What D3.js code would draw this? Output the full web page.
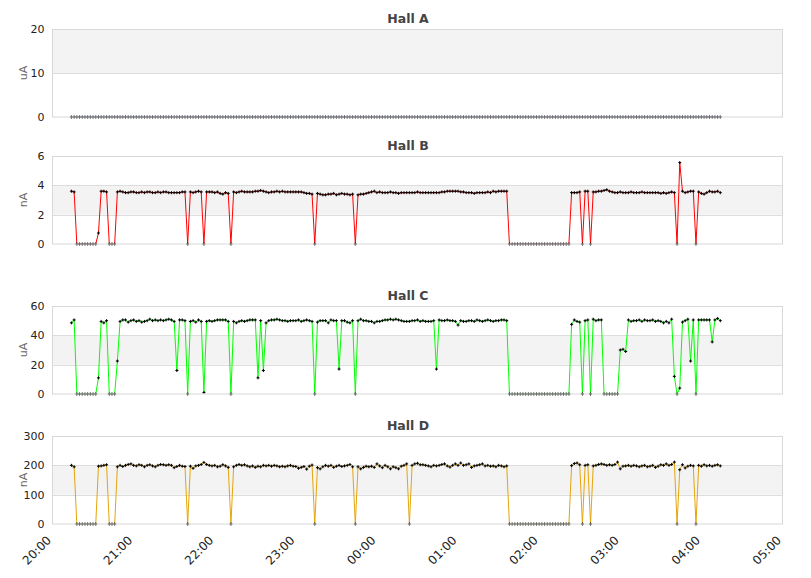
<!DOCTYPE html>
<html>
<head>
<meta charset="utf-8">
<script src="https://cdn.jsdelivr.net/npm/d3@7"></script>
<style>
  body { margin: 0; background: #fff; }
  svg { display: block; font-family: "DejaVu Sans", sans-serif; }
</style>
</head>
<body>
<svg id="chart" width="811" height="578"></svg>
<script>
"use strict";
// samples every 2 minutes, starting 20:14
const sampleStart = Date.UTC(2024, 0, 1, 20, 14);
const sampleStepMin = 2;
const axisStart = Date.UTC(2024, 0, 1, 20, 0);
const axisEnd = Date.UTC(2024, 0, 2, 5, 0);

const hallA = [
  0, 0, 0, 0, 0, 0, 0, 0, 0, 0,
  0, 0, 0, 0, 0, 0, 0, 0, 0, 0,
  0, 0, 0, 0, 0, 0, 0, 0, 0, 0,
  0, 0, 0, 0, 0, 0, 0, 0, 0, 0,
  0, 0, 0, 0, 0, 0, 0, 0, 0, 0,
  0, 0, 0, 0, 0, 0, 0, 0, 0, 0,
  0, 0, 0, 0, 0, 0, 0, 0, 0, 0,
  0, 0, 0, 0, 0, 0, 0, 0, 0, 0,
  0, 0, 0, 0, 0, 0, 0, 0, 0, 0,
  0, 0, 0, 0, 0, 0, 0, 0, 0, 0,
  0, 0, 0, 0, 0, 0, 0, 0, 0, 0,
  0, 0, 0, 0, 0, 0, 0, 0, 0, 0,
  0, 0, 0, 0, 0, 0, 0, 0, 0, 0,
  0, 0, 0, 0, 0, 0, 0, 0, 0, 0,
  0, 0, 0, 0, 0, 0, 0, 0, 0, 0,
  0, 0, 0, 0, 0, 0, 0, 0, 0, 0,
  0, 0, 0, 0, 0, 0, 0, 0, 0, 0,
  0, 0, 0, 0, 0, 0, 0, 0, 0, 0,
  0, 0, 0, 0, 0, 0, 0, 0, 0, 0,
  0, 0, 0, 0, 0, 0, 0, 0, 0, 0,
  0, 0, 0, 0, 0, 0, 0, 0, 0, 0,
  0, 0, 0, 0, 0, 0, 0, 0, 0, 0,
  0, 0, 0, 0, 0, 0, 0, 0, 0, 0,
  0, 0, 0, 0, 0, 0, 0, 0, 0, 0,
  0
];

const hallB = [
  3.6, 3.55, 0, 0, 0, 0, 0, 0, 0, 0,
  0.75, 3.6, 3.6, 3.55, 0, 0, 0, 3.55, 3.6, 3.55,
  3.5, 3.5, 3.55, 3.55, 3.5, 3.5, 3.55, 3.5, 3.55, 3.55,
  3.5, 3.5, 3.55, 3.5, 3.55, 3.55, 3.5, 3.5, 3.5, 3.5,
  3.5, 3.55, 3.55, 0, 3.55, 3.5, 3.55, 3.6, 3.55, 0,
  3.55, 3.55, 3.55, 3.5, 3.55, 3.45, 3.4, 3.5, 3.45, 0,
  3.55, 3.5, 3.55, 3.6, 3.55, 3.55, 3.55, 3.55, 3.6, 3.6,
  3.65, 3.6, 3.55, 3.5, 3.55, 3.55, 3.6, 3.55, 3.6, 3.55,
  3.55, 3.55, 3.55, 3.55, 3.55, 3.55, 3.5, 3.45, 3.45, 3.4,
  0, 3.45, 3.4, 3.35, 3.35, 3.4, 3.4, 3.45, 3.35, 3.4,
  3.45, 3.4, 3.4, 3.35, 3.4, 0, 3.35, 3.4, 3.4, 3.45,
  3.5, 3.55, 3.6, 3.5, 3.55, 3.5, 3.5, 3.5, 3.55, 3.5,
  3.5, 3.45, 3.5, 3.5, 3.5, 3.5, 3.5, 3.5, 3.55, 3.5,
  3.5, 3.5, 3.5, 3.5, 3.5, 3.5, 3.5, 3.55, 3.55, 3.6,
  3.6, 3.6, 3.6, 3.6, 3.55, 3.55, 3.5, 3.5, 3.5, 3.45,
  3.5, 3.5, 3.5, 3.5, 3.55, 3.5, 3.6, 3.55, 3.6, 3.6,
  3.6, 3.6, 0, 0, 0, 0, 0, 0, 0, 0,
  0, 0, 0, 0, 0, 0, 0, 0, 0, 0,
  0, 0, 0, 0, 0, 3.5, 3.5, 3.5, 3.55, 0,
  3.6, 3.6, 0, 3.55, 3.55, 3.6, 3.6, 3.65, 3.7, 3.6,
  3.55, 3.5, 3.5, 3.55, 3.5, 3.5, 3.5, 3.55, 3.5, 3.5,
  3.5, 3.55, 3.5, 3.5, 3.5, 3.5, 3.5, 3.5, 3.45, 3.5,
  3.45, 3.5, 3.55, 3.5, 0, 5.55, 3.6, 3.5, 3.55, 3.6,
  3.6, 0, 3.55, 3.45, 3.4, 3.5, 3.6, 3.55, 3.55, 3.6,
  3.5
];

const hallC = [
  48.5, 50.5, 0, 0, 0, 0, 0, 0, 0, 0,
  11, 49.5, 48.5, 50, 0, 0, 0, 22.5, 49.5, 50.5,
  50.5, 49, 50, 50.5, 49.5, 50, 49, 49.5, 50, 51,
  50, 50.5, 50, 50.5, 50, 50.5, 51, 50.5, 49.5, 16,
  50.5, 50.5, 50, 0, 49.5, 50, 49, 50.5, 49.5, 1,
  49.5, 50, 49.5, 50, 50.5, 50.5, 50.5, 50.5, 49.5, 0,
  49.5, 48.5, 49.5, 50, 49.5, 50, 50.5, 50.5, 50.5, 11,
  50, 16, 48.5, 50, 50.5, 50.5, 51, 50.5, 50, 50,
  49.5, 50, 50, 50, 50.5, 49.5, 50, 50.5, 50, 49.5,
  0, 49, 50, 50, 50, 48.5, 50.5, 50, 50, 17,
  50, 50, 49, 48.5, 50, 0, 50, 51, 50, 50,
  49.5, 49.5, 48.5, 49.5, 49.5, 50, 50.5, 50.5, 51, 50.5,
  51, 50.5, 50, 49.5, 49.5, 49.5, 50, 50, 50.5, 49.5,
  50, 49.5, 49.5, 49.5, 50, 17, 50.5, 50, 50, 50.5,
  50, 50, 49.5, 47, 50, 49.5, 49.5, 50, 50, 49.5,
  50.5, 50, 49.5, 50, 50.5, 50, 49.5, 50, 50, 50.5,
  50.5, 50, 0, 0, 0, 0, 0, 0, 0, 0,
  0, 0, 0, 0, 0, 0, 0, 0, 0, 0,
  0, 0, 0, 0, 0, 47.5, 50.5, 49.5, 49, 0,
  50, 50.5, 0, 51, 50, 50.5, 50.5, 0, 0, 0,
  0, 0, 0, 30, 30.5, 29, 50.5, 49.5, 50, 50,
  50.5, 49.5, 50.5, 50, 50, 50.5, 49.5, 50, 49.5, 48.5,
  49.5, 48.5, 51, 12, 0, 4, 49, 50, 51, 22.5,
  50.5, 0, 50.5, 50.5, 50.5, 50.5, 50.5, 35.5, 50.5, 51.5,
  50
];

const hallD = [
  200, 195, 0, 0, 0, 0, 0, 0, 0, 0,
  197, 198, 200, 202, 0, 0, 0, 195, 200, 196,
  200, 203, 205, 200, 198, 202, 200, 195, 200, 202,
  198, 195, 200, 203, 202, 200, 202, 200, 192, 196,
  200, 197, 196, 0, 197, 190, 198, 200, 203, 210,
  203, 200, 198, 200, 195, 197, 202, 198, 193, 0,
  195, 200, 203, 200, 202, 198, 195, 198, 193, 197,
  195, 200, 198, 200, 197, 200, 198, 195, 197, 195,
  198, 200, 197, 196, 190, 193, 196, 187, 197, 201,
  0, 192, 188, 195, 200, 197, 200, 193, 197, 200,
  196, 198, 200, 203, 195, 0, 195, 188, 193, 197,
  195, 197, 193, 205, 198, 192, 200, 195, 188, 195,
  192, 188, 197, 200, 205, 0, 200, 205, 207, 202,
  202, 200, 198, 195, 200, 198, 200, 203, 205, 198,
  194, 200, 205, 200, 208, 200, 202, 205, 193, 198,
  200, 202, 205, 198, 200, 197, 198, 195, 200, 198,
  195, 198, 0, 0, 0, 0, 0, 0, 0, 0,
  0, 0, 0, 0, 0, 0, 0, 0, 0, 0,
  0, 0, 0, 0, 0, 199, 206, 208, 202, 0,
  200, 202, 0, 198, 200, 203, 205, 203, 200, 202,
  200, 203, 211, 188, 197, 198, 200, 197, 200, 198,
  195, 198, 200, 195, 197, 200, 193, 197, 202, 200,
  205, 200, 203, 211, 0, 185, 202, 191, 197, 200,
  198, 0, 200, 197, 202, 198, 200, 197, 200, 202,
  198
];

const titles = ["Hall A", "Hall B", "Hall C", "Hall D"];
const units = ["uA", "nA", "uA", "nA"];
const yTicks = [[0, 10, 20], [0, 2, 4, 6], [0, 20, 40, 60], [0, 100, 200, 300]];
const series = [hallA, hallB, hallC, hallD];
const lineColors = ["#2f7ed8", "#ff0000", "#00ff00", "#e5a50a"];

const times = hallA.map((_, i) => new Date(sampleStart + i * sampleStepMin * 60000));

// layout
const plotLeft = 52.5, plotRight = 782.5, panelH = 88;
const panelTops = [29, 156, 306, 436];

const svg = d3.select("#chart");
const x = d3.scaleUtc().domain([axisStart, axisEnd]).range([plotLeft, plotRight]);

series.forEach((values, p) => {
  const top = panelTops[p], bottom = top + panelH;
  const ticks = yTicks[p];
  const y = d3.scaleLinear().domain([0, ticks[ticks.length - 1]]).range([bottom, top]);
  const g = svg.append("g").attr("class", "panel");

  // alternating bands, every second one grey
  g.selectAll("rect.band").data(d3.range(ticks.length - 1).filter(k => k % 2 === 1)).join("rect")
    .attr("class", "band")
    .attr("x", plotLeft).attr("width", plotRight - plotLeft)
    .attr("y", k => y(ticks[k + 1])).attr("height", k => y(ticks[k]) - y(ticks[k + 1]))
    .attr("fill", "#f3f3f3");

  // grid
  g.selectAll("line.grid").data(ticks.slice(1, -1)).join("line")
    .attr("class", "grid")
    .attr("x1", plotLeft).attr("x2", plotRight)
    .attr("y1", d => Math.round(y(d)) + 0.5).attr("y2", d => Math.round(y(d)) + 0.5)
    .attr("stroke", "#dddddd");

  // the line is clipped to the plot area, markers are not
  const clipId = "clip" + p;
  g.append("clipPath").attr("id", clipId).append("rect")
    .attr("x", plotLeft).attr("y", top).attr("width", plotRight - plotLeft).attr("height", panelH);

  const line = d3.line().x((d, i) => x(times[i])).y(d => y(d));
  g.append("path")
    .attr("clip-path", `url(#${clipId})`)
    .attr("d", line(values))
    .attr("fill", "none")
    .attr("stroke", lineColors[p])
    .attr("stroke-width", 1);

  g.append("path")
    .attr("d", values.map((d, i) => {
      const cx = x(times[i]), cy = y(d);
      return `M${cx - 1.5},${cy}h3M${cx},${cy - 1.5}v3`;
    }).join(""))
    .attr("fill", "none")
    .attr("stroke", "#000")
    .attr("stroke-width", 1);

  // frame on top
  g.append("rect")
    .attr("x", plotLeft).attr("y", top + 0.5)
    .attr("width", plotRight - plotLeft).attr("height", panelH - 0.5)
    .attr("fill", "none").attr("stroke", "#d8d8d8");

  // y axis
  const yAxis = d3.axisLeft(y).tickValues(ticks).tickFormat(d3.format("d")).tickSize(0).tickPadding(8);
  const ay = g.append("g").attr("transform", `translate(${plotLeft},0)`).call(yAxis);
  ay.select(".domain").remove();
  ay.selectAll("text").attr("font-size", 11).attr("fill", "#222")
    .attr("font-family", "DejaVu Sans, sans-serif");

  g.append("text")
    .attr("transform", `translate(27,${(top + bottom) / 2}) rotate(-90)`)
    .attr("text-anchor", "middle")
    .attr("font-size", 11).attr("fill", "#666")
    .text(units[p]);

  g.append("text")
    .attr("x", 408).attr("y", top - 6)
    .attr("text-anchor", "middle")
    .attr("font-size", 12.5).attr("font-weight", "bold").attr("fill", "#444")
    .text(titles[p]);

  if (p === series.length - 1) {
    const xAxis = d3.axisBottom(x).ticks(d3.utcHour.every(1)).tickFormat(d3.utcFormat("%H:%M")).tickSize(0);
    const ax = g.append("g").attr("transform", `translate(0,${bottom})`).call(xAxis);
    ax.select(".domain").remove();
    ax.selectAll("text")
      .attr("font-size", 12).attr("fill", "#222")
      .attr("font-family", "DejaVu Sans, sans-serif")
      .attr("text-anchor", "end")
      .attr("y", 0).attr("dy", "0.35em")
      .attr("transform", "translate(-4,14) rotate(-45)");
  }
});
</script>
</body>
</html>
